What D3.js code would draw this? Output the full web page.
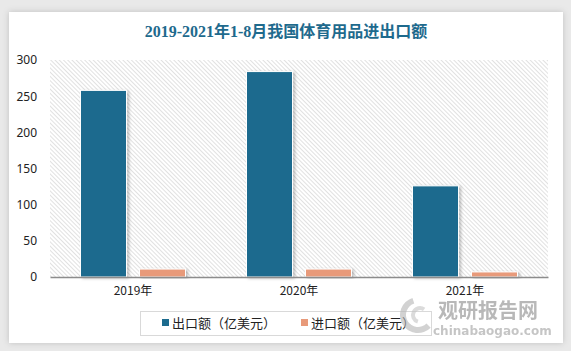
<!DOCTYPE html>
<html>
<head>
<meta charset="utf-8">
<script src="https://cdn.jsdelivr.net/npm/d3@7"></script>
<style>
  body { margin: 0; background: #e9e9e9; }
  svg { display: block; }
</style>
</head>
<body>
<div id="chart"></div>
<script>
// data
var years = ["2019年", "2020年", "2021年"];
var seriesNames = ["出口额（亿美元）", "进口额（亿美元）"];
var exportVals = [258, 284, 126];
var importVals = [11, 11, 7];
var yTicks = [0, 50, 100, 150, 200, 250, 300];
var colors = ["#1c6b8e", "#e89a7a"];

var W = 571, H = 351;
var margin = { top: 60, right: 23, bottom: 74, left: 50 },
    width = W - margin.left - margin.right,
    height = H - margin.top - margin.bottom;

var svg = d3.select("#chart").append("svg")
    .attr("width", W)
    .attr("height", H);

var defs = svg.append("defs");

// shadow for the card and bars
var f = defs.append("filter").attr("id", "shadow")
    .attr("x", "-10%").attr("y", "-10%").attr("width", "120%").attr("height", "120%");
f.append("feDropShadow").attr("dx", 0).attr("dy", 0).attr("stdDeviation", 3)
    .attr("flood-color", "#000").attr("flood-opacity", 0.18);

var fb = defs.append("filter").attr("id", "barShadow")
    .attr("x", "-20%").attr("y", "-20%").attr("width", "150%").attr("height", "140%");
fb.append("feDropShadow").attr("dx", 2).attr("dy", 1).attr("stdDeviation", 1.5)
    .attr("flood-color", "#000").attr("flood-opacity", 0.25);

// diagonal hatch for the plot area (lines running top-left to bottom-right)
var pat = defs.append("pattern").attr("id", "hatch")
    .attr("patternUnits", "userSpaceOnUse")
    .attr("width", 3).attr("height", 3)
    .attr("patternTransform", "rotate(-45)");
pat.append("rect").attr("width", 3).attr("height", 3).attr("fill", "#fff");
pat.append("line").attr("x1", 0).attr("y1", 0).attr("x2", 0).attr("y2", 3)
    .attr("stroke", "#cdcdcd").attr("stroke-width", 1.2);

// white card
svg.append("rect")
    .attr("x", 9).attr("y", 12)
    .attr("width", 554).attr("height", 331)
    .attr("fill", "#fff")
    .attr("filter", "url(#shadow)");

// title
svg.append("text")
    .attr("x", 286).attr("y", 37)
    .attr("text-anchor", "middle")
    .style("font-family", "'Liberation Serif', 'Noto Sans CJK SC', serif")
    .style("font-size", "16px")
    .style("font-weight", "bold")
    .style("fill", "#1e6a8d")
    .text("2019-2021年1-8月我国体育用品进出口额");

var g = svg.append("g")
    .attr("transform", "translate(" + margin.left + "," + margin.top + ")");

g.append("rect")
    .attr("width", width).attr("height", height)
    .attr("fill", "url(#hatch)");

var x0 = d3.scaleBand().domain(years).range([0, width]);
var x1 = d3.scaleBand().domain([0, 1]).range([x0.bandwidth() / 2 - 52.5, x0.bandwidth() / 2 + 52.5]).paddingInner(0.22);
var y = d3.scaleLinear().domain([0, 300]).range([height, 0]);

// y axis labels
var yAxis = g.append("g")
    .call(d3.axisLeft(y).tickValues(yTicks).tickSize(0).tickPadding(13));
yAxis.select(".domain").remove();
yAxis.selectAll("text")
    .style("font-family", "'Noto Sans', 'DejaVu Sans', sans-serif")
    .style("font-size", "12px")
    .style("fill", "#222");

// bars
var groups = g.selectAll(".grp")
    .data(years.map(function(yr, i) { return [exportVals[i], importVals[i]]; }))
    .enter().append("g")
    .attr("transform", function(d, i) { return "translate(" + x0(years[i]) + ",0)"; });

groups.selectAll("rect")
    .data(function(d) { return d; })
    .enter().append("rect")
    .attr("x", function(d, i) { return x1(i); })
    .attr("y", function(d) { return y(d); })
    .attr("width", x1.bandwidth())
    .attr("height", function(d) { return height - y(d); })
    .attr("fill", function(d, i) { return colors[i]; })
    .attr("stroke", "#fff")
    .attr("stroke-width", 1)
    .attr("filter", "url(#barShadow)");

// x axis
var xAxis = g.append("g")
    .attr("transform", "translate(0," + height + ")")
    .call(d3.axisBottom(x0).tickSize(0).tickPadding(9));
xAxis.select(".domain").attr("stroke", "#8c8c8c").attr("stroke-width", 1.3);
xAxis.selectAll("text")
    .style("font-family", "'Noto Sans CJK SC', sans-serif")
    .style("font-size", "12px")
    .style("fill", "#222");

// legend
var lg = svg.append("g");
lg.append("rect")
    .attr("x", 140.5).attr("y", 311.5)
    .attr("width", 291).attr("height", 24)
    .attr("fill", "#fff").attr("stroke", "#d9d9d9");
var items = lg.selectAll(".item")
    .data(seriesNames)
    .enter().append("g")
    .attr("transform", function(d, i) { return "translate(" + (162 + i * 139) + ",323)"; });
items.append("rect")
    .attr("x", 0).attr("y", -4)
    .attr("width", 7).attr("height", 7)
    .attr("fill", function(d, i) { return colors[i]; });
items.append("text")
    .attr("x", 10).attr("y", 5)
    .style("font-family", "'Noto Sans CJK SC', sans-serif")
    .style("font-size", "13px")
    .style("fill", "#222")
    .text(function(d) { return d; });

// watermark
var wm = svg.append("g").style("opacity", 0.6);
wm.append("path")
    .attr("d", d3.arc()({ innerRadius: 12, outerRadius: 18, startAngle: -Math.PI * 0.1, endAngle: -Math.PI * 1.25 }))
    .attr("transform", "translate(418,315)")
    .attr("fill", "#b5b5b5");
wm.append("path")
    .attr("d", d3.arc()({ innerRadius: 5, outerRadius: 9, startAngle: Math.PI * 0.2, endAngle: -Math.PI * 0.9 }))
    .attr("transform", "translate(420,315)")
    .attr("fill", "#c4c4c4");
wm.append("text")
    .attr("x", 438).attr("y", 318)
    .style("font-family", "'Noto Sans CJK SC', sans-serif")
    .style("font-size", "20px").style("font-weight", "bold")
    .style("fill", "#8a8a8a")
    .text("观研报告网");
wm.append("text")
    .attr("x", 433).attr("y", 335)
    .style("font-family", "'DejaVu Sans', sans-serif")
    .style("font-size", "12px").style("font-weight", "bold")
    .style("fill", "#a0a0a0")
    .text("chinabaogao.com");
</script>
</body>
</html>
